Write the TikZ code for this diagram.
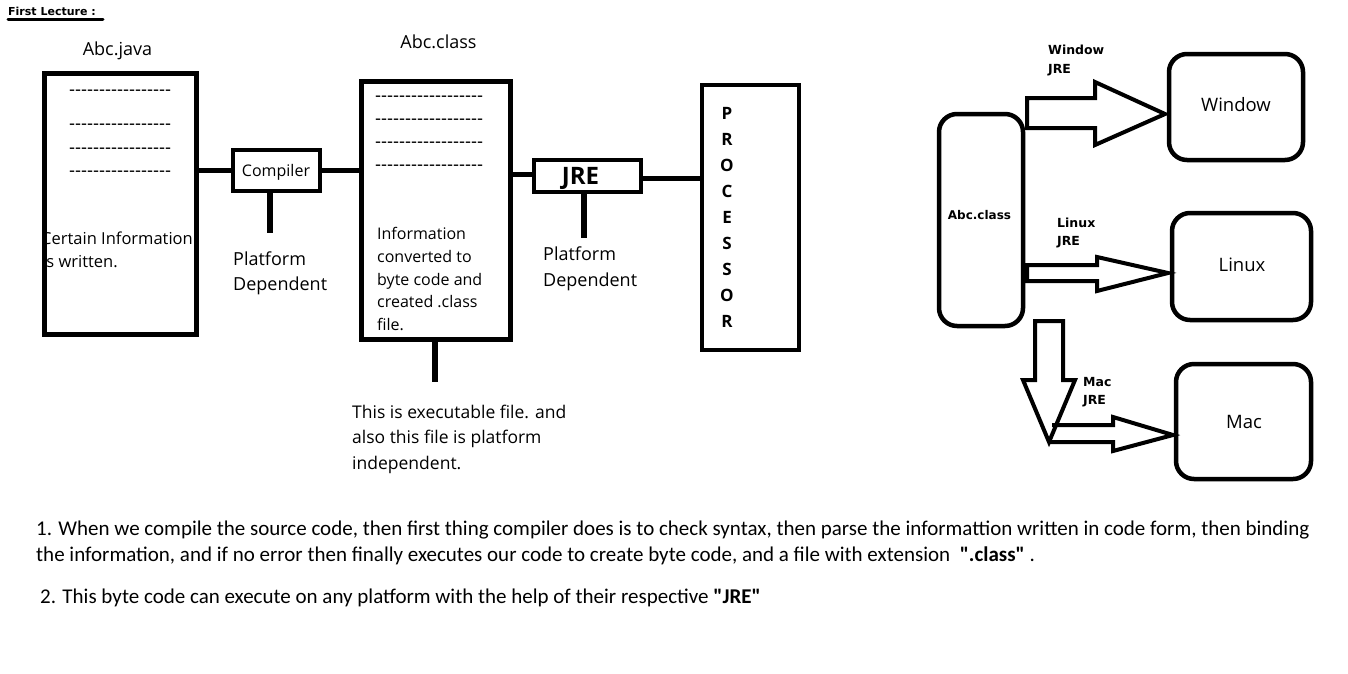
\documentclass[tikz,border=0pt]{standalone}
\usepackage{fontspec}
\newfontfamily\osans{Open Sans}
\newfontfamily\dvs{DejaVu Sans}
\newfontfamily\carl{Carlito}[Ligatures=TeXOff]
\newfontfamily\lib{Liberation Sans}[Ligatures=TeXOff]
\newcommand\fs[1]{\fontsize{#1}{#1}\selectfont}
\newcommand\hyrow[1]{\foreach \k in {1,...,#1}{-}}
\tikzset{
  sqbox/.style={draw, line width=5pt, inner sep=0pt},
  rbox/.style={draw, line width=4.5pt, rounded corners=18pt, inner sep=0pt},
  wire/.style={line width=5pt},
  stemline/.style={line width=6pt},
  blockarrow/.style={line width=4pt, line join=miter},
  txt/.style={inner sep=0pt, anchor=base west, font=\osans\fs{16}},
  ctxt/.style={inner sep=0pt, anchor=base, font=\osans\fs{18}},
  btxt/.style={inner sep=0pt, anchor=base west, font=\dvs\bfseries\fs{12.5}},
  hy/.style={inner sep=0pt, anchor=base west, font=\lib\fs{18}},
  note/.style={inner sep=0pt, anchor=base west, font=\carl\fs{21}},
}
\begin{document}
\begin{tikzpicture}[x=1pt,y=-1pt]
\useasboundingbox (0,0) rectangle (1348,673);
\fill[white] (0,0) rectangle (1348,673);

% title
\node[inner sep=0pt, anchor=base west, font=\dvs\bfseries\fs{11}] (title) at (8,15) {First Lecture :};
\draw[line width=3pt, line cap=round] (title.base west |- 0,19) coordinate (ul1) -- (103,19) coordinate (ul2);

% Abc.java
\node[ctxt] (javalbl) at (117.5,55) {Abc.java};
\node[hy] (jh1) at (69,95) {\hyrow{17}};
\node[hy] (jh2) at (69,129) {\hyrow{17}};
\node[hy] (jh3) at (69,153) {\hyrow{17}};
\node[hy] (jh4) at (69,176) {\hyrow{17}};
\node[txt, font=\osans\fs{16.5}] (jt1) at (41,244) {Certain Information};
\node[txt, font=\osans\fs{16.5}] (jt2) at (42,267) {is written.};
\node[sqbox, minimum width=152pt, minimum height=261pt] (java) at (120.5,204) {};

% Compiler
\node[sqbox, line width=4.5pt, minimum width=87pt, minimum height=41pt] (compiler) at (276.5,170.5) {};
\node[ctxt, font=\osans\fs{16}] (comptxt) at (276,176) {Compiler};
\node[txt, font=\osans\fs{18}] (cpd1) at (233,265) {Platform};
\node[txt, font=\osans\fs{18}] (cpd2) at (233,290) {Dependent};

% Abc.class
\node[ctxt] (classlbl) at (438.5,48) {Abc.class};
\node[sqbox, minimum width=149pt, minimum height=258pt] (class) at (436,210.5) {};
\node[hy] (ch1) at (375,101) {\hyrow{18}};
\node[hy] (ch2) at (375,124) {\hyrow{18}};
\node[hy] (ch3) at (375,147) {\hyrow{18}};
\node[hy] (ch4) at (375,170) {\hyrow{18}};
\node[txt] (ct1) at (377,239) {Information};
\node[txt] (ct2) at (377,262) {converted to};
\node[txt] (ct3) at (377,285) {byte code and};
\node[txt] (ct4) at (377,307) {created .class};
\node[txt] (ct5) at (377,330) {file.};

\node[txt, font=\osans\fs{17.5}] (ex1) at (352,418) {This is executable file. and};
\node[txt, font=\osans\fs{17.5}] (ex2) at (352,443) {also this file is platform};
\node[txt, font=\osans\fs{17.5}] (ex3) at (352,469) {independent.};

% JRE
\node[sqbox, line width=4.5pt, minimum width=107pt, minimum height=32pt] (jre) at (587.5,176) {};
\node[ctxt, font=\osans\bfseries\fs{24}] (jretxt) at (580.5,184) {JRE};
\node[txt, font=\osans\fs{18}] (jpd1) at (543,260) {Platform};
\node[txt, font=\osans\fs{18}] (jpd2) at (543,286) {Dependent};

% Processor
\node[sqbox, line width=4.5pt, minimum width=97pt, minimum height=265pt] (proc) at (750.5,217.5) {};
\foreach \L [count=\i from 0] in {P,R,O,C,E,S,S,O,R}
  \node[ctxt, font=\osans\bfseries\fs{17}] (p\i) at (727,119+26.1*\i) {\L};

% connectors
\draw[wire] (java.east |- compiler.west) -- (compiler.west);
\draw[wire] (compiler.east) -- (compiler.east -| class.west);
\draw[wire] ([yshift=2pt]jre.west -| class.east) -- ([yshift=2pt]jre.west);
\draw[wire] ([yshift=-2pt]jre.east) -- ([yshift=-2pt]jre.east -| proc.west);

\coordinate (cst) at (270,233);
\draw[stemline] (compiler.south -| cst) -- (cst);
\coordinate (clst) at (435,382);
\draw[stemline] (class.south -| clst) -- (clst);
\coordinate (jst) at (584,238);
\draw[stemline] (jre.south -| jst) -- (jst);

% right side
\node[rbox, minimum width=84pt, minimum height=212pt] (rclass) at (981,220) {};
\node[inner sep=0pt, anchor=base, font=\dvs\bfseries\fs{12}] (rclasstxt) at (979.5,219) {Abc.class};

\node[rbox, minimum width=134pt, minimum height=106pt] (win) at (1236,107) {};
\node[ctxt, font=\osans\fs{18.5}] (wintxt) at (1236,111) {Window};
\node[rbox, minimum width=139pt, minimum height=107pt] (lin) at (1241.5,266.5) {};
\node[ctxt, font=\osans\fs{18.5}] (lintxt) at (1242,271) {Linux};
\node[rbox, minimum width=135pt, minimum height=115pt] (mac) at (1243.5,421.5) {};
\node[ctxt, font=\osans\fs{18.5}] (mactxt) at (1244,428) {Mac};

\node[btxt] (wj1) at (1048,54) {Window};
\node[btxt] (wj2) at (1048,73) {JRE};
\node[btxt] (lj1) at (1057,227) {Linux};
\node[btxt] (lj2) at (1057,245) {JRE};
\node[btxt] (mj1) at (1083,386) {Mac};
\node[btxt] (mj2) at (1083,404) {JRE};

% block arrows
\draw[blockarrow] (1027,98) -- (1095,98) -- (1095,82) -- (1165,114) -- (1095,145) -- (1095,128) -- (1027,128) -- cycle;
\draw[blockarrow] (1027,265) -- (1097,265) -- (1097,257) -- (1168,273) -- (1097,291) -- (1097,281) -- (1027,281) -- cycle;
\draw[blockarrow] (1035,321) -- (1063,321) -- (1063,380) -- (1075,380) -- (1049,442) -- (1023,380) -- (1035,380) -- cycle;
\draw[blockarrow] (1052,425) -- (1113,425) -- (1113,417) -- (1173,435) -- (1113,451) -- (1113,442) -- (1049,442);

% notes
\node[note] (n1) at (36,535) {1. When we compile the source code, then first thing compiler does is to check syntax, then parse the informattion written in code form, then binding};
\node[note] (n2) at (36,561) {the information, and if no error then finally executes our code to create byte code, and a file with extension\ \ {\bfseries ".class"} .};
\node[note] (n3) at (40,603) {2. This byte code can execute on any platform with the help of their respective {\bfseries "JRE"}};
\end{tikzpicture}
\end{document}
